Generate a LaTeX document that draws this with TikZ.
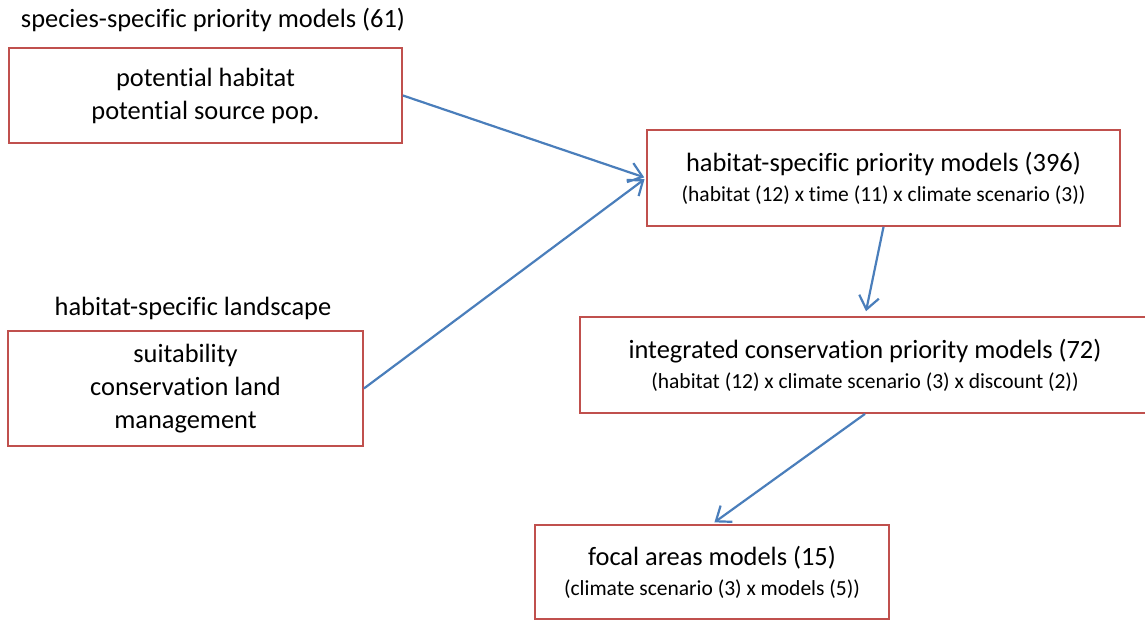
\documentclass[tikz,border=0pt]{standalone}
\usepackage{fontspec}
\setmainfont{Carlito}[Ligatures=NoCommon]
\usetikzlibrary{arrows.meta}

\definecolor{boxred}{RGB}{192,80,77}
\definecolor{arrowblue}{RGB}{74,126,187}

\newcommand{\bigtxt}{\fontsize{26.4}{33}\selectfont}
\newcommand{\smalltxt}{\fontsize{21.5}{26}\selectfont}

\begin{document}
\begin{tikzpicture}[x=1pt, y=-1pt,
    modelbox/.style={draw=boxred, line width=1.8pt, inner sep=0pt, align=center, font=\bigtxt},
    flowarrow/.style={draw=arrowblue, line width=2.2pt, -{Straight Barb[length=13pt, width=20pt, line width=2.2pt]}}]
    \clip (0,0) rectangle (1145,620);

    % Input boxes with their headings
    \node[font=\bigtxt] (speciestitle) at (213,20) {species-specific priority models (61)};
    \node[modelbox, minimum width=393pt, minimum height=95pt] (species) at (205.5,95.5)
        {potential habitat\\potential source pop.};

    \node[font=\bigtxt] (landtitle) at (193,308) {habitat-specific landscape};
    \node[modelbox, minimum width=355pt, minimum height=115pt] (landscape) at (185.5,388.5)
        {suitability\\conservation land\\management};

    % Model chain
    \node[modelbox, minimum width=473pt, minimum height=96pt] (habitat) at (883.5,178)
        {habitat-specific priority models (396)\\[-3pt]
         {\smalltxt (habitat (12) x time (11) x climate scenario (3))}};

    \node[modelbox, minimum width=570pt, minimum height=96pt] (integrated) at (865,365)
        {integrated conservation priority models (72)\\[-3pt]
         {\smalltxt (habitat (12) x climate scenario (3) x discount (2))}};

    \node[modelbox, minimum width=354pt, minimum height=94pt] (focal) at (712,572)
        {focal areas models (15)\\[-3pt]
         {\smalltxt (climate scenario (3) x models (5))}};

    % Arrows
    \draw[flowarrow, shorten >=2pt] (species.east) -- (habitat.west);
    \draw[flowarrow, shorten >=2pt] (landscape.east) -- (habitat.west);
    \draw[flowarrow, shorten >=5pt] (habitat.south) -- (integrated.north);
    \draw[flowarrow, shorten >=3pt] (integrated.south) -- (focal.north);

\end{tikzpicture}
\end{document}
